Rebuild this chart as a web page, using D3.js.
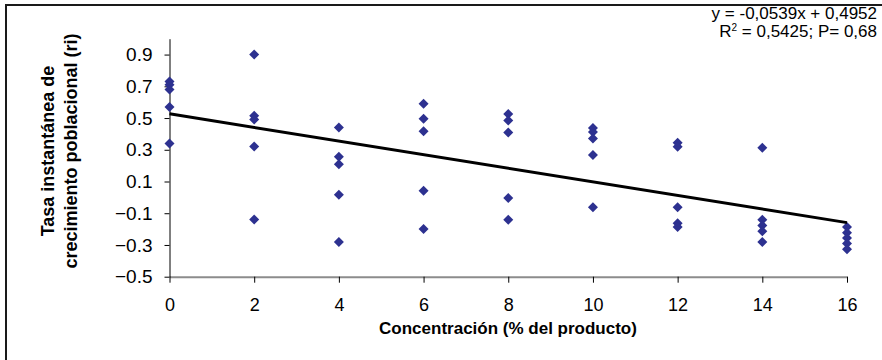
<!DOCTYPE html>
<html>
<head>
<meta charset="utf-8">
<script src="https://cdnjs.cloudflare.com/ajax/libs/d3/7.8.5/d3.min.js"></script>
<style>
  body { margin: 0; background: #fff; }
  svg { display: block; font-family: "Liberation Sans", Arial, sans-serif; }
</style>
</head>
<body>
<svg width="882" height="360"></svg>
<script>
// concentraciones (% del producto) y tasas ri leídas por columna
var concentraciones = [0, 2, 4, 6, 8, 10, 12, 14, 16];
var tasas = [
  [0.73, 0.71, 0.68, 0.57, 0.34],
  [0.90, 0.515, 0.49, 0.32, -0.14],
  [0.44, 0.256, 0.209, 0.017, -0.281],
  [0.59, 0.496, 0.417, 0.042, -0.20],
  [0.525, 0.484, 0.409, -0.004, -0.141],
  [0.4375, 0.4125, 0.371, 0.267, -0.0625],
  [0.344, 0.319, -0.0625, -0.1625, -0.1875],
  [0.3125, -0.141, -0.177, -0.214, -0.281],
  [-0.1875, -0.2225, -0.256, -0.291, -0.327]
];
var xTicks = [0, 2, 4, 6, 8, 10, 12, 14, 16];
var yTicks = [-0.5, -0.3, -0.1, 0.1, 0.3, 0.5, 0.7, 0.9];

var svg = d3.select("svg"),
  margin = { top: 38.7, right: 35, bottom: 83.3, left: 169.5 },
  width = +svg.attr("width") - margin.left - margin.right,
  height = +svg.attr("height") - margin.top - margin.bottom;

// points
var puntos = [];
concentraciones.forEach(function (c, i) {
  tasas[i].forEach(function (t) { puntos.push({ x: c, y: t }); });
});

// outer frame (only left and top edges are inside the picture)
svg.append("rect")
  .attr("x", 6).attr("y", 5)
  .attr("width", 900).attr("height", 400)
  .attr("fill", "none").attr("stroke", "#1a1a1a").attr("stroke-width", 2);

var x = d3.scaleLinear().domain([0, 16]).range([0, width]);
var y = d3.scaleLinear().domain([-0.5, 1.0]).range([height, 0]);

var g = svg.append("g").attr("transform", "translate(" + margin.left + "," + margin.top + ")");

// x axis
var gx = g.append("g")
  .attr("transform", "translate(0," + height + ")")
  .call(d3.axisBottom(x).tickValues(xTicks).tickSize(6).tickPadding(16).tickSizeOuter(0));
gx.select(".domain").attr("stroke", "#8c8c8c").attr("stroke-width", 2);
gx.selectAll(".tick line").attr("stroke", "#000");
gx.selectAll("text").attr("font-size", 18).attr("fill", "#000")
  .attr("font-family", "'Liberation Sans', Arial, sans-serif");

// y axis
var gy = g.append("g")
  .call(d3.axisLeft(y).tickValues(yTicks).tickFormat(d3.format(".1f")).tickSize(5).tickPadding(12).tickSizeOuter(0));
gy.select(".domain").attr("stroke", "#000");
gy.selectAll(".tick line").attr("stroke", "#000");
gy.selectAll("text").attr("font-size", 19).attr("fill", "#000")
  .attr("font-family", "'Liberation Sans', Arial, sans-serif");

// markers
g.selectAll(".punto")
  .data(puntos)
  .enter()
  .append("path")
  .attr("class", "punto")
  .attr("d", d3.symbol().type(d3.symbolSquare).size(50))
  .attr("transform", function (d) { return "translate(" + x(d.x) + "," + y(d.y) + ") rotate(45)"; })
  .attr("fill", "#2d3190");

// linear trend from the points (least squares)
var mx = d3.mean(puntos, function (d) { return d.x; }),
  my = d3.mean(puntos, function (d) { return d.y; });
var b = d3.sum(puntos, function (d) { return (d.x - mx) * (d.y - my); }) /
  d3.sum(puntos, function (d) { return (d.x - mx) * (d.x - mx); });
var a = my - b * mx;

g.append("path")
  .datum([0, 16])
  .attr("fill", "none")
  .attr("stroke", "#000")
  .attr("stroke-width", 3)
  .attr("d", d3.line().x(function (d) { return x(d); }).y(function (d) { return y(a + b * d); }));

// equation
svg.append("text")
  .attr("x", 877).attr("y", 19)
  .attr("text-anchor", "end")
  .attr("font-size", 17)
  .text("y = -0,0539x + 0,4952");
var eq2 = svg.append("text")
  .attr("x", 877).attr("y", 37)
  .attr("text-anchor", "end")
  .attr("font-size", 17);
eq2.append("tspan").text("R");
eq2.append("tspan").attr("font-size", 10).attr("dy", -6).text("2");
eq2.append("tspan").attr("dy", 6).text(" = 0,5425; P= 0,68");

// axis titles
svg.append("text")
  .attr("x", 508).attr("y", 334)
  .attr("text-anchor", "middle")
  .attr("font-size", 17).attr("font-weight", "bold")
  .text("Concentración (% del producto)");

var yt = svg.append("text")
  .attr("transform", "translate(0,151) rotate(-90)")
  .attr("text-anchor", "middle")
  .attr("font-size", 18).attr("font-weight", "bold");
yt.append("tspan").attr("x", 0).attr("y", 54).text("Tasa instantánea de");
yt.append("tspan").attr("x", 0).attr("y", 77).text("crecimiento poblacional (ri)");
</script>
</body>
</html>
